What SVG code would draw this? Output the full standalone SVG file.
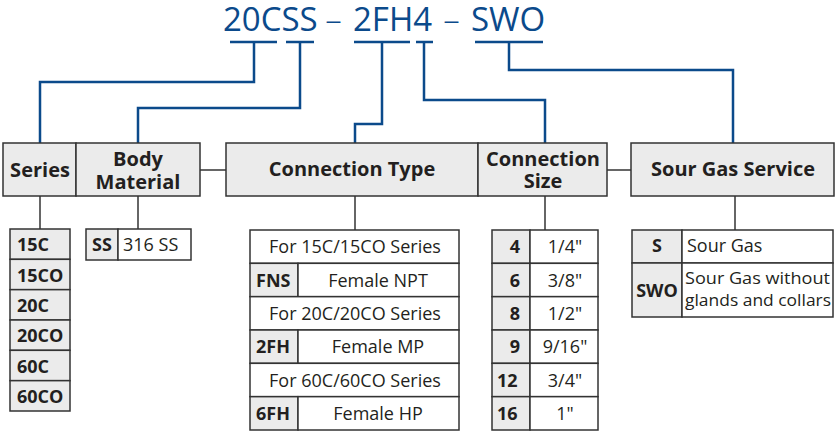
<svg xmlns="http://www.w3.org/2000/svg" width="835" height="432" viewBox="0 0 835 432">
<style>
text{font-family:"Open Sans","Noto Sans","Liberation Sans",sans-serif;fill:#231f20}
.code{fill:#0b4a8b;font-size:33px}
.dash{fill:#0b4a8b;font-size:33px;font-weight:300}
.ul{stroke:#0b4a8b;stroke-width:2.5;fill:none}
.lead{stroke:#0b4a8b;stroke-width:2.5;fill:none}
.link{stroke:#333;stroke-width:1.5;fill:none}
.g{fill:#ebebeb;stroke:#333;stroke-width:1.5}
.w{fill:#fff;stroke:#333;stroke-width:1.5}
.h{font-size:20px;font-weight:700;text-anchor:middle}
.b{font-size:18px;font-weight:700}
.n{font-size:18px}
.s{font-size:17px}
.m{text-anchor:middle}
.e{text-anchor:end}
</style>

<g id="code">
<text class="code" x="223" y="31">20CSS</text>
<text class="dash" x="333.5" y="31" text-anchor="middle">–</text>
<text class="code" x="353" y="31">2FH4</text>
<text class="dash" x="451.5" y="31" text-anchor="middle">–</text>
<text class="code" x="471" y="31">SWO</text>
<line class="ul" x1="230" y1="42" x2="277" y2="42"/>
<line class="ul" x1="286" y1="42" x2="314" y2="42"/>
<line class="ul" x1="354" y1="42" x2="410" y2="42"/>
<line class="ul" x1="416" y1="42" x2="433" y2="42"/>
<line class="ul" x1="475" y1="42" x2="543" y2="42"/>
</g>

<g id="connectors">
<polyline class="lead" points="254,42 254,82 40,82 40,143"/>
<polyline class="lead" points="300,42 300,108 138,108 138,143"/>
<polyline class="lead" points="382,42 382,124 355,124 355,143"/>
<polyline class="lead" points="424,42 424,100 545,100 545,143"/>
<polyline class="lead" points="509,42 509,70 733,70 733,143"/>
<line class="link" x1="200" y1="170" x2="226" y2="170"/>
<line class="link" x1="607" y1="170" x2="631" y2="170"/>
<line class="link" x1="40" y1="196" x2="40" y2="229"/>
<line class="link" x1="138" y1="196" x2="138" y2="229"/>
<line class="link" x1="355" y1="196" x2="355" y2="230"/>
<line class="link" x1="545" y1="196" x2="545" y2="230"/>
<line class="link" x1="735" y1="196" x2="735" y2="230"/>
</g>

<g id="series">
<rect class="g" x="3" y="143" width="73" height="53"/>
<text class="h" x="40" y="177">Series</text>
</g>
<g id="body-material">
<rect class="g" x="76" y="143" width="124" height="53"/>
<text class="h" x="138" y="166">Body</text>
<text class="h" x="138" y="189">Material</text>
</g>
<g id="connection-type">
<rect class="g" x="226" y="143" width="252" height="53"/>
<text class="h" x="352" y="176">Connection Type</text>
</g>
<g id="connection-size">
<rect class="g" x="478" y="143" width="129" height="53"/>
<text class="h" x="543" y="166">Connection</text>
<text class="h" x="543" y="188">Size</text>
</g>
<g id="sour-gas-service">
<rect class="g" x="631" y="143" width="203" height="53"/>
<text class="h" x="733" y="176">Sour Gas Service</text>
</g>

<g id="series-list">
<rect class="g" x="10" y="229" width="60" height="30.33"/>
<rect class="g" x="10" y="259.33" width="60" height="30.33"/>
<rect class="g" x="10" y="289.67" width="60" height="30.33"/>
<rect class="g" x="10" y="320" width="60" height="30.33"/>
<rect class="g" x="10" y="350.33" width="60" height="30.33"/>
<rect class="g" x="10" y="380.67" width="60" height="30.33"/>
<text class="b" x="17" y="251">15C</text>
<text class="b" x="17" y="281.5">15CO</text>
<text class="b" x="17" y="312">20C</text>
<text class="b" x="17" y="342">20CO</text>
<text class="b" x="17" y="372.5">60C</text>
<text class="b" x="17" y="403">60CO</text>
</g>

<g id="body-list">
<rect class="g" x="86" y="229" width="32" height="31"/>
<rect class="w" x="118" y="229" width="73" height="31"/>
<text class="b m" x="102" y="251">SS</text>
<text class="n" x="123" y="251">316 SS</text>
</g>

<g id="connection-type-list">
<rect class="w" x="250" y="230" width="209" height="33.33"/>
<rect class="g" x="250" y="263.33" width="48" height="33.33"/>
<rect class="w" x="298" y="263.33" width="161" height="33.33"/>
<rect class="w" x="250" y="296.67" width="209" height="33.33"/>
<rect class="g" x="250" y="330" width="48" height="33.33"/>
<rect class="w" x="298" y="330" width="161" height="33.33"/>
<rect class="w" x="250" y="363.33" width="209" height="33.33"/>
<rect class="g" x="250" y="396.67" width="48" height="33.33"/>
<rect class="w" x="298" y="396.67" width="161" height="33.33"/>
<text class="n m" x="355" y="253">For 15C/15CO Series</text>
<text class="b" x="256" y="286.5">FNS</text>
<text class="n m" x="378" y="286.5">Female NPT</text>
<text class="n m" x="355" y="320">For 20C/20CO Series</text>
<text class="b" x="256" y="353">2FH</text>
<text class="n m" x="378" y="353">Female MP</text>
<text class="n m" x="355" y="386.5">For 60C/60CO Series</text>
<text class="b" x="256" y="420">6FH</text>
<text class="n m" x="378" y="420">Female HP</text>
</g>

<g id="connection-size-list">
<rect class="g" x="492" y="230" width="38" height="33.33"/>
<rect class="w" x="530" y="230" width="68" height="33.33"/>
<rect class="g" x="492" y="263.33" width="38" height="33.33"/>
<rect class="w" x="530" y="263.33" width="68" height="33.33"/>
<rect class="g" x="492" y="296.67" width="38" height="33.33"/>
<rect class="w" x="530" y="296.67" width="68" height="33.33"/>
<rect class="g" x="492" y="330" width="38" height="33.33"/>
<rect class="w" x="530" y="330" width="68" height="33.33"/>
<rect class="g" x="492" y="363.33" width="38" height="33.33"/>
<rect class="w" x="530" y="363.33" width="68" height="33.33"/>
<rect class="g" x="492" y="396.67" width="38" height="33.33"/>
<rect class="w" x="530" y="396.67" width="68" height="33.33"/>
<text class="b e" x="520" y="253">4</text>
<text class="n m" x="565" y="253">1/4"</text>
<text class="b e" x="520" y="286.5">6</text>
<text class="n m" x="565" y="286.5">3/8"</text>
<text class="b e" x="520" y="320">8</text>
<text class="n m" x="565" y="320">1/2"</text>
<text class="b e" x="520" y="353">9</text>
<text class="n m" x="565" y="353">9/16"</text>
<text class="b" x="497" y="386.5">12</text>
<text class="n m" x="565" y="386.5">3/4"</text>
<text class="b" x="497" y="420">16</text>
<text class="n m" x="565" y="420">1"</text>
</g>

<g id="sour-gas-list">
<rect class="g" x="632" y="230" width="50" height="33"/>
<rect class="w" x="682" y="230" width="151" height="33"/>
<rect class="g" x="632" y="263" width="50" height="54"/>
<rect class="w" x="682" y="263" width="151" height="54"/>
<text class="b m" x="657" y="252">S</text>
<text class="n" x="687" y="252">Sour Gas</text>
<text class="b m" x="657" y="297" font-size="17">SWO</text>
<text class="s" x="685" y="284" textLength="145" lengthAdjust="spacingAndGlyphs">Sour Gas without</text>
<text class="s" x="685" y="306" textLength="146" lengthAdjust="spacingAndGlyphs">glands and collars</text>
</g>
</svg>
